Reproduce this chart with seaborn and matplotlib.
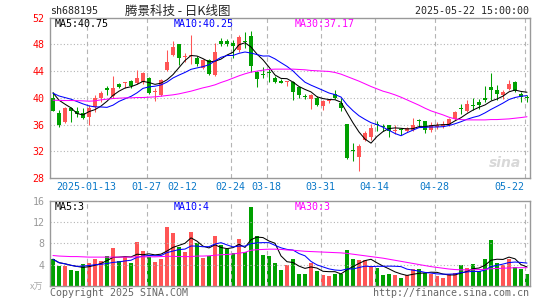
import numpy as np
import pandas as pd
import seaborn as sns
import matplotlib.pyplot as plt

# daily candles, 80 sessions
opens = [40.05, 37.7, 36.4, 38.5, 38.1, 37.7, 37.1, 38.7, 40.0, 41.4,
         40.25, 42.1, 42.15, 42.5, 42.25, 42.4, 43.0, 40.85, 40.4, 44.15,
         46.4, 48.0, 46.1, 46.2, 46.0, 44.5, 45.6, 43.4, 48.55, 48.55,
         48.2, 47.2, 48.45, 49.2, 43.9, 43.55, 43.8, 42.9, 42.55, 42.4,
         42.4, 41.55, 40.3, 39.8, 40.05, 38.75, 39.6, 40.55, 39.25, 36.05,
         32.1, 31.2, 33.75, 34.2, 36.05, 35.8, 35.9, 35.0, 35.3, 35.1,
         35.2, 36.7, 36.5, 35.2, 35.7, 35.75, 36.0, 36.8, 38.35, 38.0,
         38.85, 39.4, 40.0, 41.65, 41.25, 40.4, 41.3, 42.4, 40.65, 40.2]
highs = [40.9, 38.2, 38.6, 38.6, 38.6, 38.5, 38.9, 40.4, 41.0, 41.8,
         43.3, 42.2, 42.4, 42.65, 44.2, 43.9, 43.15, 41.4, 42.75, 47.1,
         48.55, 48.1, 46.7, 49.4, 46.3, 45.8, 45.8, 48.2, 48.9, 48.8,
         48.7, 49.4, 49.9, 49.95, 44.05, 44.6, 44.3, 43.2, 42.75, 42.55,
         42.55, 41.65, 40.65, 40.65, 40.25, 39.65, 39.9, 41.15, 40.05, 36.05,
         33.2, 33.1, 35.1, 36.1, 36.6, 36.15, 36.0, 35.9, 35.5, 35.6,
         37.0, 36.8, 36.6, 36.35, 36.35, 36.55, 37.0, 38.05, 39.15, 39.65,
         40.05, 39.8, 41.75, 43.75, 41.9, 41.25, 42.65, 42.5, 40.9, 40.4]
lows = [38.0, 35.7, 36.3, 36.4, 37.1, 36.9, 36.0, 37.9, 39.4, 40.4,
        40.05, 41.4, 41.4, 41.4, 42.1, 42.1, 40.65, 39.5, 40.25, 44.05,
        46.2, 44.9, 45.3, 45.0, 44.7, 44.3, 43.4, 43.3, 47.7, 47.7,
        46.0, 46.9, 47.4, 43.9, 41.65, 42.9, 42.4, 42.15, 42.15, 41.75,
        39.65, 40.05, 39.9, 38.4, 38.75, 38.15, 39.3, 39.9, 38.05, 30.85,
        30.6, 29.1, 33.6, 33.7, 35.1, 35.1, 34.2, 34.6, 34.4, 34.9,
        35.1, 35.6, 34.7, 34.9, 35.35, 35.5, 35.75, 36.65, 37.55, 37.9,
        38.15, 38.4, 39.4, 39.65, 39.65, 39.9, 41.15, 40.9, 39.4, 39.4]
closes = [38.1, 36.0, 38.5, 38.1, 37.6, 37.0, 38.5, 40.0, 40.75, 41.2,
          41.4, 41.65, 42.35, 41.75, 42.9, 43.7, 40.75, 41.0, 42.65, 45.4,
          47.6, 46.0, 46.3, 46.4, 45.0, 45.65, 43.55, 46.8, 48.0, 48.05,
          47.75, 49.15, 48.3, 44.8, 42.75, 43.45, 43.7, 42.4, 42.25, 42.55,
          40.9, 40.4, 40.2, 40.4, 38.9, 39.55, 39.7, 40.05, 38.55, 31.0,
          32.0, 32.85, 34.75, 35.5, 35.95, 35.7, 35.1, 35.25, 35.2, 35.5,
          35.9, 36.6, 35.2, 35.95, 36.0, 36.15, 36.8, 37.9, 38.3, 39.05,
          38.8, 38.9, 39.65, 41.15, 40.65, 40.95, 42.1, 41.0, 40.1, 40.05]
volumes = [5.0, 3.7, 3.7, 3.0, 2.8, 4.1, 4.35, 5.05, 4.65, 5.6,
           7.05, 4.65, 5.5, 4.35, 8.2, 6.55, 5.5, 4.5, 5.05, 11.15,
           10.0, 7.4, 6.45, 10.2, 8.0, 5.3, 5.7, 9.4, 7.7, 6.9,
           6.25, 8.85, 6.45, 14.95, 9.4, 5.8, 5.6, 4.35, 3.0, 3.9,
           5.05, 2.2, 2.2, 4.35, 2.85, 2.0, 1.85, 2.2, 2.2, 6.75,
           5.05, 4.85, 4.85, 3.45, 3.4, 2.0, 2.2, 2.0, 1.5, 2.0,
           3.1, 3.1, 2.35, 2.2, 1.85, 1.5, 2.2, 2.45, 3.9, 3.4,
           4.1, 2.85, 5.05, 8.65, 4.35, 3.9, 5.05, 3.45, 3.15, 2.2]
# closes before the window, only needed to seed MA5 / MA10
prev_closes = [40.2, 40.9, 40.5, 41.1, 40.55, 41.5, 41.5, 40.85, 41.8]
# 30-day averages (the window is too short to compute them)
ma30_price = [39.65, 39.62, 39.6, 39.6, 39.58, 39.55, 39.5, 39.55, 39.7, 39.8,
              39.9, 39.95, 40.0, 40.0, 40.05, 40.05, 40.1, 40.15, 40.25, 40.35,
              40.45, 40.6, 40.8, 41.0, 41.25, 41.5, 41.7, 41.95, 42.3, 42.6,
              42.95, 43.3, 43.6, 43.85, 44.0, 44.15, 44.25, 44.3, 44.3, 44.3,
              44.3, 44.25, 44.2, 44.1, 44.05, 44.0, 43.95, 43.8, 43.55, 43.2,
              42.85, 42.5, 42.1, 41.7, 41.35, 41.0, 40.75, 40.45, 40.1, 39.7,
              39.3, 38.9, 38.45, 38.05, 37.75, 37.45, 37.1, 36.85, 36.75, 36.7,
              36.7, 36.7, 36.7, 36.75, 36.75, 36.8, 36.85, 36.95, 37.05, 37.17]
ma30_vol = [5.7, 5.6, 5.55, 5.5, 5.5, 5.45, 5.4, 5.4, 5.4, 5.4,
            5.4, 5.4, 5.4, 5.4, 5.45, 5.45, 5.45, 5.45, 5.5, 5.55,
            5.55, 5.5, 5.5, 5.5, 5.6, 5.6, 5.65, 5.75, 5.85, 5.9,
            6.0, 6.15, 6.3, 6.7, 6.8, 6.85, 6.9, 6.9, 6.85, 6.75,
            6.7, 6.6, 6.5, 6.45, 6.4, 6.35, 6.3, 6.25, 6.2, 6.1,
            5.95, 5.8, 5.65, 5.5, 5.35, 5.2, 5.0, 4.8, 4.6, 4.4,
            4.2, 4.0, 3.8, 3.6, 3.45, 3.3, 3.15, 3.05, 3.0, 3.0,
            3.0, 3.05, 3.1, 3.2, 3.25, 3.3, 3.35, 3.4, 3.4, 3.4]

tick_idx = [6, 16, 22, 30, 36, 45, 54, 64, 79]
tick_labels = ["2025-01-13", "01-27", "02-12", "02-24", "03-18",
               "03-31", "04-14", "04-28", "05-22"]
grid_idx = [6, 16, 30, 36, 45, 54, 64, 79]

RED = "#ff5555"
GREEN = "#00a000"
GRID = "#b4b4b4"
FS = 7.2

n = len(closes)
df = pd.DataFrame({"i": np.arange(n), "open": opens, "high": highs,
                   "low": lows, "close": closes, "vol": volumes})
df["up"] = df["close"] >= df["open"]
allc = pd.Series(prev_closes + closes)
df["ma5"] = allc.rolling(5).mean().values[len(prev_closes):]
df["ma10"] = allc.rolling(10).mean().values[len(prev_closes):]
df["ma30"] = ma30_price
df["vma5"] = df["vol"].rolling(5, min_periods=1).mean()
df["vma10"] = df["vol"].rolling(10, min_periods=1).mean()
df["vma30"] = ma30_vol

sns.set_style("white")
plt.rcParams["font.family"] = ["DejaVu Sans Mono", "Noto Sans CJK SC"]

W, H = 545, 300
fig = plt.figure(figsize=(W / 100, H / 100), dpi=100)
ax = fig.add_axes([50 / W, 1 - 178 / H, 480 / W, 160.3 / H])
axv = fig.add_axes([50 / W, 1 - 285.7 / H, 480 / W, 84.7 / H])

cols = np.where(df["up"], RED, GREEN)

# candles
ax.vlines(df["i"], df["low"], df["high"], colors=cols, lw=0.75, zorder=3)
body_lo = np.minimum(df["open"], df["close"])
body_h = np.maximum((df["close"] - df["open"]).abs(), 0.12)
ax.bar(df["i"], body_h, bottom=body_lo, width=0.78, color=cols, lw=0, zorder=4)
sns.lineplot(data=df, x="i", y="ma5", color="black", lw=0.75, ax=ax, zorder=5)
sns.lineplot(data=df, x="i", y="ma10", color="#0000ff", lw=0.75, ax=ax, zorder=5)
sns.lineplot(data=df, x="i", y="ma30", color="#ff00ff", lw=0.75, ax=ax, zorder=5)

# volume
sns.barplot(data=df, x="i", y="vol", hue="up", palette={True: RED, False: GREEN},
            dodge=False, width=0.83, saturation=1, legend=False, linewidth=0, ax=axv)
sns.lineplot(data=df, x="i", y="vma5", color="black", lw=0.75, ax=axv, zorder=5)
sns.lineplot(data=df, x="i", y="vma10", color="#0000ff", lw=0.75, ax=axv, zorder=5)
sns.lineplot(data=df, x="i", y="vma30", color="#ff00ff", lw=0.75, ax=axv, zorder=5)

for a in (ax, axv):
    a.set_xlim(-0.5, n - 0.5)
    a.set_xlabel("")
    a.set_ylabel("")
    for s in a.spines.values():
        s.set_color("#999999")
        s.set_linewidth(1.0)
    for g in grid_idx:
        a.axvline(g - 0.4, color=GRID, lw=0.8, ls=(0, (4, 3)), zorder=1)

ax.set_ylim(28, 52)
ax.set_yticks(range(28, 53, 4))
ax.set_yticklabels([str(v) for v in range(28, 53, 4)], color="#ff0000", fontsize=FS)
for v in range(32, 52, 4):
    ax.axhline(v, color=GRID, lw=0.8, ls=(0, (1, 2)), zorder=1)
ax.set_xticks([t - 0.4 for t in tick_idx])
ax.set_xticklabels(tick_labels, color="#0a78c8", fontsize=FS)
ax.tick_params(axis="x", direction="in", length=4, color="#999999", pad=3)
ax.tick_params(axis="y", length=0, pad=4)
ax.get_xticklabels()[-1].set_ha("right")

axv.set_ylim(0, 16)
axv.set_yticks([4, 8, 12, 16])
axv.set_yticklabels(["4", "8", "12", "16"], color="#999999", fontsize=FS)
for v in (4, 8, 12):
    axv.axhline(v, color=GRID, lw=0.8, ls=(0, (1, 2)), zorder=1)
axv.set_xticks([])
axv.tick_params(axis="y", length=0, pad=4)


def put(x, y, s, **kw):
    fig.text(x / W, 1 - y / H, s, va="center", **kw)


put(50, 11, "sh688195", fontsize=FS)
put(178, 11, "腾景科技 - 日K线图", fontsize=9, ha="center",
    family=["Noto Sans CJK SC", "DejaVu Sans"])
put(529, 11, "2025-05-22 15:00:00", fontsize=FS, ha="right")
put(55, 24, "MA5:40.75", fontsize=FS, color="black")
put(174, 24, "MA10:40.25", fontsize=FS, color="#0000ff")
put(295, 24, "MA30:37.17", fontsize=FS, color="#ff00ff")
put(55, 207, "MA5:3", fontsize=FS, color="black")
put(174, 207, "MA10:4", fontsize=FS, color="#0000ff")
put(295, 207, "MA30:3", fontsize=FS, color="#ff00ff")
put(50, 293, "Copyright 2025 SINA.COM", fontsize=FS, color="#666666")
put(529, 293, "http://finance.sina.com.cn", fontsize=FS, color="#666666", ha="right")
put(30, 287, "x万", fontsize=6.5, color="#aaaaaa", family=["Noto Sans CJK SC", "DejaVu Sans"])
put(505, 163, "sina", fontsize=10, color="#d8d8d8", ha="center", weight="bold",
    style="italic", family=["DejaVu Sans"])

fig.savefig("out.png", dpi=100)
plt.close(fig)
